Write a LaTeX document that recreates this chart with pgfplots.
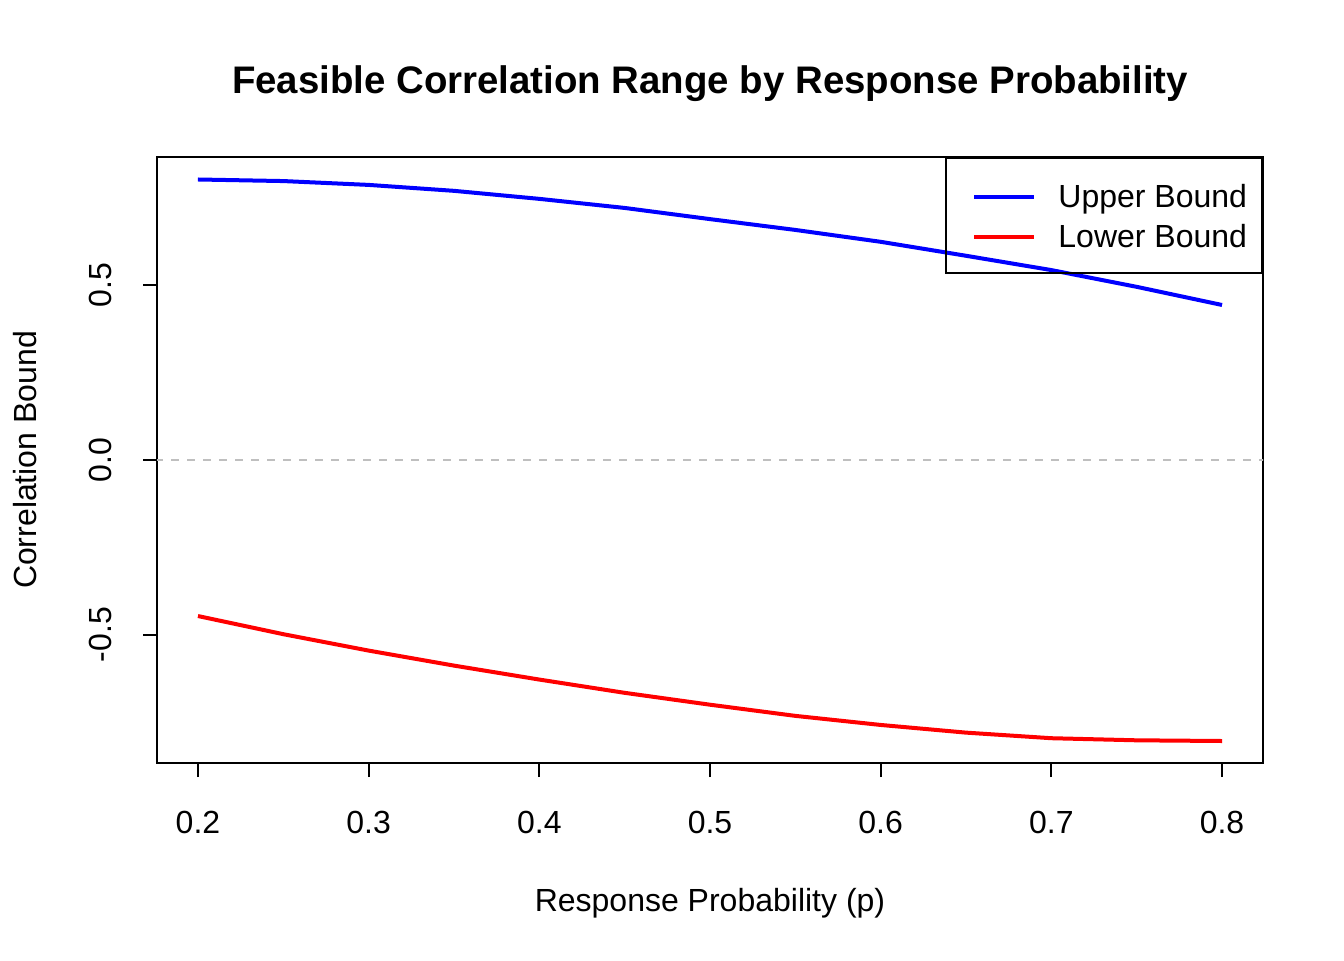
\documentclass[border=0pt]{standalone}
\usepackage{pgfplots}
\pgfplotsset{compat=1.18}
\usepackage{fontspec}
\setmainfont{Liberation Sans}
\begin{document}
\fontsize{16}{19}\selectfont
\begin{tikzpicture}
\path[use as bounding box] (0,0) rectangle (672pt,480pt);
\begin{axis}[
  at={(78.5pt,98.5pt)}, anchor=south west,
  scale only axis, width=553pt, height=303pt,
  xmin=0.176, xmax=0.824, ymin=-0.868, ymax=0.868,
  axis line style={line width=1pt},
  tick style={line width=1pt, black},
  tick align=outside, major tick length=7pt,
  xtick={0.2,0.3,0.4,0.5,0.6,0.7,0.8},
  ytick={-0.5,0,0.5},
  xticklabels={0.2,0.3,0.4,0.5,0.6,0.7,0.8},
  yticklabels={-0.5,0.0,0.5},
  xtick pos=bottom, ytick pos=left,
  /pgf/number format/assume math mode=true,
  tick label style={font=\fontsize{16}{19}\selectfont},
  xticklabel style={anchor=base, yshift=-28pt},
  yticklabel style={xshift=-15.75pt, rotate=90, anchor=base},
  legend style={at={(axis description cs:1,1)}, anchor=north east,
    draw=black, line width=1pt, fill=none,
    inner xsep=7.5pt, inner ysep=8.75pt, row sep=0pt,
    font=\fontsize{16}{19}\selectfont,
    nodes={inner sep=0pt, text height=16.25pt, text depth=3.75pt, anchor=base west}},
  legend cell align=left,
  legend image code/.code={\path[draw=none] (0pt,0pt) -- (48.5pt,0pt);\draw[#1] (6.5pt,5.5pt) -- (36.5pt,5.5pt);},
]
\addplot[draw=black!25, line width=1pt, dash pattern=on 4pt off 4pt, forget plot] coordinates {(0.1,0) (0.9,0)};
\addplot[color=blue, line width=2pt] coordinates {
(0.20,0.8035) (0.25,0.799) (0.30,0.788) (0.35,0.771) (0.40,0.748) (0.45,0.722) (0.50,0.690)
(0.55,0.659) (0.60,0.625) (0.65,0.585) (0.70,0.544) (0.75,0.496) (0.80,0.444)};
\addlegendentry{Upper Bound}
\addplot[color=red, line width=2pt] coordinates {
(0.20,-0.447) (0.25,-0.499) (0.30,-0.546) (0.35,-0.589) (0.40,-0.629) (0.45,-0.667) (0.50,-0.701)
(0.55,-0.733) (0.60,-0.759) (0.65,-0.781) (0.70,-0.797) (0.75,-0.803) (0.80,-0.805)};
\addlegendentry{Lower Bound}
\end{axis}
\node[anchor=base, font=\bfseries\fontsize{19.2}{22}\selectfont] at (355pt,433pt) {Feasible Correlation Range by Response Probability};
\node[anchor=base, inner sep=0pt] at (355pt,24.5pt) {Response Probability (p)};
\node[anchor=base, rotate=90, inner sep=0pt] at (18pt,250pt) {Correlation Bound};
\end{tikzpicture}
\end{document}
